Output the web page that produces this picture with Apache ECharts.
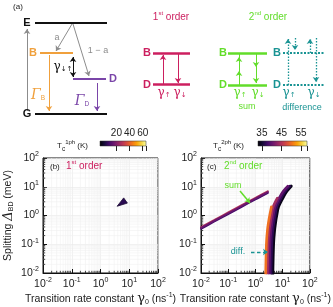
<!DOCTYPE html>
<html><head><meta charset="utf-8">
<script src="https://cdn.jsdelivr.net/npm/echarts@6/dist/echarts.min.js"></script>
<style>html,body{margin:0;padding:0;background:#fff}#c{width:333px;height:307px}</style>
</head><body><div id="c"></div>
<script>
// ---------- data ----------
const minorMultipliers = [2,3,4,5,6,7,8,9];
const minorDecades = [0.01, 0.1, 1, 10];
// panel (b): 1-photon region (gamma0, Delta)
const region1ph = [[3.8,2.1],[6.4,4.1],[8.6,2.7]];
// panel (c): sum branch
const sumGamma   = [0.01, 0.03, 0.1, 0.3, 1, 2.9];
const sumDelta44 = [0.40, 0.70, 1.30, 2.27, 4.2, 7.1];
const sumDelta40 = [0.37, 0.65, 1.20, 2.10, 3.9, 6.6];
const sumDelta37 = [0.34, 0.60, 1.10, 1.93, 3.6, 6.1];
// panel (c): difference branch
const diffDelta   = [0.009, 0.1, 0.3, 0.6, 1, 2, 4, 7, 10.5];
const diffGamma50 = [2.37, 2.52, 2.74, 3.03, 3.33, 3.85];
const diffGamma44 = [2.75, 2.92, 3.18, 3.53, 3.87, 4.47, 6.36];
const diffGamma40 = [3.2, 3.4, 3.7, 4.1, 4.5, 5.2, 7.4, 10.5, 15.5];
const diffGamma37 = [3.74, 3.98, 4.33, 4.8, 5.27, 6.08, 8.66, 12.3, 18.1];
const diffGamma34 = [4.3, 4.6, 5.0, 5.5, 6.0, 7.0, 10.0, 14.2, 20.5];
// colorbars
const cb1Range = [-5, 65], cb1Ticks = [20, 40, 60];
const cb2Range = [33, 58], cb2Ticks = [35, 45, 55];

// ---------- colours ----------
const FONT = 'Liberation Sans, Arial, sans-serif';
const C = {orange:'#f0a03c', purple:'#7a45a8', crimson:'#cc1f5f', green:'#62dd2a', teal:'#199393', grey:'#8c8c8c'};
const infernoStops = ['#000004','#160b39','#420a68','#6a176e','#932667','#bc3754','#dd513a','#f37819','#fca50a','#f6d746','#fcffa4'];
function hex(c){return [1,3,5].map(i=>parseInt(c.substr(i,2),16));}
function inferno(t){t=Math.max(0,Math.min(1,t));const s=t*10,i=Math.min(9,Math.floor(s)),f=s-i;const a=hex(infernoStops[i]),b=hex(infernoStops[i+1]);return 'rgb('+a.map((v,k)=>Math.round(v+(b[k]-v)*f)).join(',')+')';}
const tcol = T => inferno((T - cb2Range[0]) / (cb2Range[1] - cb2Range[0]));

// ---------- diagram geometry (pixel-like coords in overlay grid) ----------
const levels = [
  {c:[[35,23],[107,23]], col:'#111', w:2},
  {c:[[35,114],[107,114]], col:'#111', w:2},
  {c:[[40,53],[73,53]], col:C.orange, w:2},
  {c:[[73,79],[106,79]], col:C.purple, w:2},
  {c:[[153,53],[190,53]], col:C.crimson, w:2.5},
  {c:[[153,84],[190,84]], col:C.crimson, w:2.5},
  {c:[[228,53],[267,53]], col:C.green, w:2.5},
  {c:[[228,85],[267,85]], col:C.green, w:2.5},
  {c:[[239,57],[239,53]], col:C.green, w:1}
];
const dottedLevels = [
  {c:[[283,53],[324,53]], col:C.teal, w:2},
  {c:[[283,85],[324,85]], col:C.teal, w:2}
];
const arrows = [
  {c:[[27,111],[27,29]], col:C.grey, w:1},
  {c:[[72,24],[56,51]], col:C.grey, w:1},
  {c:[[73,24],[89,76]], col:C.grey, w:1},
  {c:[[49,55],[49,111]], col:C.orange, w:1},
  {c:[[97,83],[97,111]], col:C.purple, w:1},
  {c:[[163,84],[163,55]], col:C.crimson, w:1},
  {c:[[178,54],[178,83]], col:C.crimson, w:1},
  {c:[[239,85],[239,71]], col:C.green, w:1},
  {c:[[239,71],[239,57]], col:C.green, w:1},
  {c:[[256,53],[256,67]], col:C.green, w:1},
  {c:[[256,67],[256,83]], col:C.green, w:1},
  {c:[[240,191],[250,203]], col:C.green, w:1.5}
];
const dblArrows = [ {c:[[73,57],[73,77]], col:'#111', w:1} ];
const dottedArrows = [
  {c:[[288,85],[288,39]], col:C.teal, w:1.3},
  {c:[[295,38],[295,50]], col:C.teal, w:1.3},
  {c:[[310,53],[310,39]], col:C.teal, w:1.3},
  {c:[[316,38],[316,82]], col:C.teal, w:1.3}
];
const dashedArrows = [ {c:[[251,252],[268,252]], col:C.teal, w:1.3} ];

const toLines = (arr, type) => arr.map(a => ({coords:a.c, lineStyle:{color:a.col, width:a.w, opacity:1, type:type||'solid'}}));

// ---------- texts ----------
function rich(col, base){
  base = base || 10;
  return {
    n:{fontSize:base, fill:col, color:col, fontFamily:FONT},
    sup:{fontSize:6, fill:col, color:col, fontFamily:FONT, padding:[0,0,7,0]},
    sub:{fontSize:6.5, fill:col, color:col, fontFamily:FONT, padding:[6,0,0,0]},
    g:{fontSize:base+2, fill:col, color:col, fontFamily:'DejaVu Serif, serif'},
    G:{fontSize:base+4, fill:col, color:col, fontFamily:'DejaVu Serif, serif', fontStyle:'italic'},
    ar:{fontSize:7, fill:col, color:col, fontFamily:'DejaVu Sans', padding:[5,0,0,0]}
  };
}
function T(x,y,text,col,opt){
  opt = opt || {};
  return {type:'text', x:x, y:y, z:100, silent:true, style:{text:text, fill:col, font:(opt.w||'normal')+' '+(opt.s||10)+'px '+FONT, align:opt.a||'center', verticalAlign:'middle', rich:rich(col, opt.s||10)}};
}
const texts = [
  T(18,7,'(a)','#222',{s:8}),
  T(27,23,'E','#111',{s:11,w:'bold'}),
  T(27,114,'G','#111',{s:11,w:'bold'}),
  T(33,53,'B',C.orange,{s:11,w:'bold'}),
  T(113,79,'D',C.purple,{s:11,w:'bold'}),
  T(57,38,'a',C.grey,{s:9}),
  T(98,51,'1 − a',C.grey,{s:9}),
  T(63,67,'{g|γ}{ar|↓↑}','#111'),
  T(38,95,'{G|Γ}{sub|B}',C.orange),
  T(82,101,'{G|Γ}{sub|D}',C.purple),
  T(171,17,'1{sup|st} order',C.crimson),
  T(147,53,'B',C.crimson,{s:11,w:'bold'}),
  T(147,85,'D',C.crimson,{s:11,w:'bold'}),
  T(164,93,'{g|γ}{ar|↑}',C.crimson),
  T(180,93,'{g|γ}{ar|↓}',C.crimson),
  T(268,17,'2{sup|nd} order',C.green),
  T(223,53,'B',C.green,{s:11,w:'bold'}),
  T(223,85,'D',C.green,{s:11,w:'bold'}),
  T(240,93,'{g|γ}{ar|↑}',C.green),
  T(258,93,'{g|γ}{ar|↓}',C.green),
  T(247,107,'sum',C.green,{s:9}),
  T(277,53,'B',C.teal,{s:11,w:'bold'}),
  T(277,85,'D',C.teal,{s:11,w:'bold'}),
  T(289,93,'{g|γ}{ar|↑}',C.teal),
  T(314,93,'{g|γ}{ar|↓}',C.teal),
  T(302,108,'difference',C.teal,{s:9}),
  // panel labels
  T(50,167,'(b)','#222',{s:8,a:'left'}),
  T(66,166,'1{sup|st} order',C.crimson,{a:'left'}),
  T(207,167,'(c)','#222',{s:8,a:'left'}),
  T(224,166,'2{sup|nd} order',C.green,{a:'left'}),
  T(233,186,'sum',C.green,{s:9}),
  T(238,252,'diff.',C.teal,{s:9}),
  // colorbar titles
  T(57,146,'T{sub|c}{sup|1ph} (K)','#222',{s:8,a:'left'}),
  T(213,146,'T{sub|c}{sup|2ph} (K)','#222',{s:8,a:'left'})
];

// ---------- axes ----------
const axRich = {b:{fontSize:10.5, color:'#222', fontFamily:FONT}, e:{fontSize:7, color:'#222', fontFamily:FONT, padding:[0,0,7,0]}};
const logFmt = v => '{b|10}{e|' + Math.round(Math.log10(v)) + '}';
const nameRich = {
  n:{fontSize:10.5, color:'#222', fontFamily:FONT},
  g:{fontSize:13, color:'#222', fontFamily:'DejaVu Serif, serif'},
  d:{fontSize:13, color:'#222', fontFamily:'DejaVu Serif, serif', fontStyle:'italic'},
  s:{fontSize:7, color:'#222', fontFamily:FONT, padding:[6,0,0,0]},
  u:{fontSize:7, color:'#222', fontFamily:FONT, padding:[0,0,7,0]}
};
function logAxis(gi, isX){
  const a = {type:'log', logBase:10, gridIndex:gi, min:0.01, max:100,
    axisLine:{show:true, lineStyle:{color:'#111', width:1}},
    axisTick:{show:true, inside:true, length:4, lineStyle:{color:'#111', width:1}},
    splitLine:{show:true, lineStyle:{color:'#e8e8e8', width:0.6}},
    axisLabel:{margin:4, formatter:logFmt, rich:axRich}};
  if (isX) {
    a.name = '{n|Transition rate constant }{g|γ}{s|0}{n| (ns}{u|-1}{n|)}';
    a.nameLocation = 'middle'; a.nameGap = 19;
    a.nameTextStyle = {rich:nameRich};
  }
  return a;
}
const minorVals = [];
minorDecades.forEach(d => minorMultipliers.forEach(m => minorVals.push(+(m*d).toPrecision(3))));

function minorSeries(gi){
  return [
    {type:'custom', xAxisIndex:gi, yAxisIndex:gi, silent:true, z:1,
     data:minorVals.map(v=>[v,1]),
     renderItem:(p,api)=>{const v=api.value(0);const b=api.coord([v,0.01]);const t=api.coord([v,100]);
       return {type:'group',children:[
         {type:'line',shape:{x1:b[0],y1:b[1],x2:t[0],y2:t[1]},style:{stroke:'#f0f0f0',lineWidth:0.6}},
         {type:'line',shape:{x1:b[0],y1:b[1],x2:b[0],y2:b[1]-2.2},style:{stroke:'#111',lineWidth:0.8}}]};}},
    {type:'custom', xAxisIndex:gi, yAxisIndex:gi, silent:true, z:1,
     data:minorVals.map(v=>[1,v]),
     renderItem:(p,api)=>{const v=api.value(1);const l=api.coord([0.01,v]);const r=api.coord([100,v]);
       return {type:'group',children:[
         {type:'line',shape:{x1:l[0],y1:l[1],x2:r[0],y2:r[1]},style:{stroke:'#f0f0f0',lineWidth:0.6}},
         {type:'line',shape:{x1:l[0],y1:l[1],x2:l[0]+2.2,y2:l[1]},style:{stroke:'#111',lineWidth:0.8}}]};}}
  ];
}
function cbAxis(gi, range, ticks){
  return {type:'value', gridIndex:gi, position:'top', min:range[0], max:range[1],
    axisLine:{show:false}, splitLine:{show:false},
    axisTick:{show:true, inside:true, length:5, customValues:ticks.concat([range[1]]), lineStyle:{color:'#222', width:1}},
    axisLabel:{margin:3, fontSize:10, color:'#222', fontFamily:FONT, customValues:ticks}};
}
function cbSeries(gi, range){
  return {type:'custom', xAxisIndex:gi, yAxisIndex:gi, silent:true, z:2,
    data:[[range[0],0]],
    renderItem:(p,api)=>{const a=api.coord([range[0],0]);const b=api.coord([range[1],1]);
      return {type:'rect', shape:{x:a[0],y:b[1],width:b[0]-a[0],height:a[1]-b[1]},
        style:{fill:new echarts.graphic.LinearGradient(0,0,1,0, infernoStops.map((c,i)=>({offset:i/10,color:c}))), stroke:'#333', lineWidth:0.5}};}};
}
const lineSeries = (gi, xs, ys, T, w) => ({
  type:'line', xAxisIndex:gi, yAxisIndex:gi, symbol:'none', smooth:0.3, z:5, clip:true,
  lineStyle:{color:tcol(T), width:w, cap:'round'},
  data: xs.map((x,i)=>[x, ys[i]])
});
const overlay = (data, sym, extra) => Object.assign({type:'lines', coordinateSystem:'cartesian2d', xAxisIndex:0, yAxisIndex:0, z:10, silent:true,
  symbol:sym, symbolSize:5, lineStyle:{opacity:1}, data:data}, extra||{});

const option = {
  animation:false,
  grid:[
    {left:0, top:0, width:333, height:307, show:false},
    {left:43, top:158, width:115, height:115, show:true, borderColor:'#111', borderWidth:1},
    {left:201, top:158, width:114, height:115, show:true, borderColor:'#111', borderWidth:1},
    {left:100, top:141, width:46, height:5},
    {left:258, top:141, width:49, height:5}
  ],
  xAxis:[
    {type:'value', gridIndex:0, min:0, max:333, show:false},
    logAxis(1,true), logAxis(2,true),
    cbAxis(3, cb1Range, cb1Ticks), cbAxis(4, cb2Range, cb2Ticks)
  ],
  yAxis:[
    {type:'value', gridIndex:0, min:0, max:307, inverse:true, show:false},
    Object.assign(logAxis(1,false), {name:'{n|Splitting }{d|Δ}{s|BD}{n| (meV)}', nameLocation:'middle', nameGap:28, nameTextStyle:{rich:nameRich}}),
    logAxis(2,false),
    {type:'value', gridIndex:3, min:0, max:1, show:false},
    {type:'value', gridIndex:4, min:0, max:1, show:false}
  ],
  series:[
    ...minorSeries(1), ...minorSeries(2),
    {type:'custom', xAxisIndex:1, yAxisIndex:1, z:5, silent:true, data:[region1ph[0]],
     renderItem:(p,api)=>({type:'polygon', shape:{points:region1ph.map(pt=>api.coord(pt))}, style:{fill:'#2a0a52', stroke:'#150530', lineWidth:0.8}})},
    lineSeries(2, sumGamma, sumDelta37, 38, 1.6),
    lineSeries(2, sumGamma, sumDelta44, 45, 1.5),
    lineSeries(2, sumGamma, sumDelta40, 40.5, 1.8),
    lineSeries(2, diffGamma34, diffDelta, 34, 3),
    lineSeries(2, diffGamma37, diffDelta, 37, 2.6),
    lineSeries(2, diffGamma40, diffDelta, 40, 2.6),
    lineSeries(2, diffGamma44, diffDelta, 44, 2.6),
    lineSeries(2, diffGamma50, diffDelta, 50, 2.6),
    cbSeries(3, cb1Range), cbSeries(4, cb2Range),
    overlay(toLines(levels), 'none'),
    overlay(toLines(dottedLevels, [2,1.5]), 'none'),
    overlay(toLines(arrows), ['none','arrow']),
    overlay(toLines(dblArrows), ['arrow','arrow']),
    overlay(toLines(dottedArrows, [1.5,1.5]), ['none','arrow']),
    overlay(toLines(dashedArrows, [3.5,2.5]), ['none','arrow'])
  ],
  graphic: texts
};
const chart = echarts.init(document.getElementById('c'), null, {renderer:'canvas'});
chart.setOption(option);
</script>
</body></html>
